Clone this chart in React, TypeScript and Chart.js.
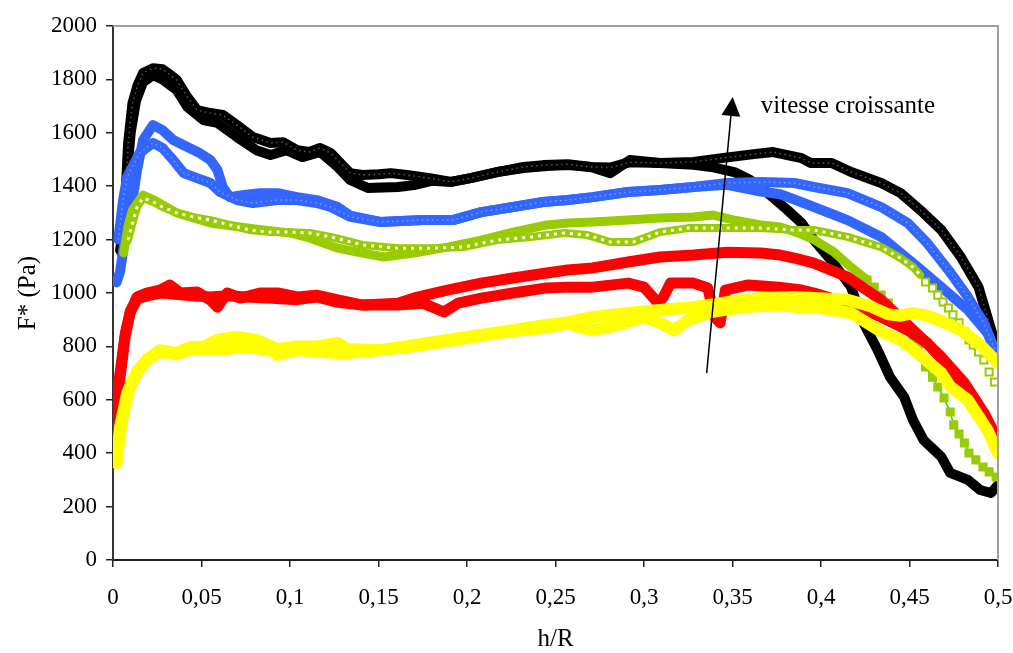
import React, { useEffect, useRef } from "react";
import { Chart, registerables } from "chart.js";
Chart.register(...registerables);

type P = [number, number];

const xTicks = [0, 0.05, 0.1, 0.15, 0.2, 0.25, 0.3, 0.35, 0.4, 0.45, 0.5];
const yTicks = [0, 200, 400, 600, 800, 1000, 1200, 1400, 1600, 1800, 2000];

const xTitle = "h/R";
const yTitle = "F* (Pa)";
const noteText = "vitesse croissante";
const arrowFrom: P = [0.3354, 700];
const arrowTo: P = [0.3501, 1734];
const notePos: P = [0.366, 1674];

const blackOpen: P[] = [
  [0.005, 1150], [0.0057, 1172], [0.007, 1350], [0.0085, 1560], [0.011, 1711], [0.014, 1780],
  [0.017, 1824], [0.0226, 1842], [0.028, 1838], [0.031, 1824], [0.036, 1798], [0.042, 1734],
  [0.0475, 1685], [0.055, 1674], [0.062, 1667], [0.07, 1629], [0.079, 1584], [0.089, 1562],
  [0.096, 1565], [0.104, 1535], [0.111, 1528], [0.117, 1543], [0.123, 1524], [0.128, 1490],
  [0.134, 1449], [0.141, 1442], [0.15, 1445], [0.157, 1449], [0.166, 1442], [0.179, 1430],
  [0.191, 1416], [0.202, 1430], [0.217, 1453], [0.232, 1472], [0.243, 1479], [0.257, 1482],
  [0.27, 1472], [0.281, 1470], [0.292, 1490], [0.309, 1487], [0.328, 1491], [0.345, 1506],
  [0.362, 1520], [0.373, 1528], [0.389, 1505], [0.394, 1487], [0.406, 1487], [0.417, 1453],
  [0.434, 1412], [0.445, 1374], [0.456, 1311], [0.468, 1236], [0.479, 1135], [0.489, 1022],
  [0.494, 910], [0.499, 798], [0.5, 760],
];

const blackFilled: P[] = [
  [0.004, 1160], [0.006, 1250], [0.008, 1450], [0.01, 1600], [0.013, 1720], [0.017, 1790],
  [0.0226, 1816], [0.028, 1800], [0.036, 1760], [0.042, 1697], [0.051, 1648], [0.059, 1637],
  [0.07, 1584], [0.081, 1535], [0.089, 1517], [0.098, 1535], [0.107, 1509], [0.117, 1528],
  [0.127, 1472], [0.134, 1423], [0.144, 1393], [0.161, 1397], [0.17, 1404], [0.18, 1420],
  [0.191, 1416], [0.202, 1430], [0.217, 1453], [0.232, 1468], [0.245, 1476], [0.257, 1479],
  [0.27, 1472], [0.281, 1449], [0.292, 1498], [0.309, 1487], [0.328, 1480], [0.338, 1472],
  [0.351, 1453], [0.36, 1423], [0.37, 1374], [0.381, 1311], [0.389, 1262], [0.396, 1198],
  [0.407, 1112], [0.417, 1022], [0.424, 888], [0.432, 786], [0.439, 685], [0.447, 610],
  [0.452, 524], [0.458, 449], [0.468, 386], [0.473, 326], [0.483, 300], [0.49, 262],
  [0.496, 251], [0.5, 281],
];

const blueFilled: P[] = [
  [0.002, 1040], [0.004, 1080], [0.006, 1170], [0.0096, 1285], [0.0136, 1461], [0.017, 1573],
  [0.0226, 1629], [0.028, 1610], [0.034, 1573], [0.042, 1547], [0.049, 1524], [0.055, 1498],
  [0.059, 1461], [0.062, 1397], [0.066, 1359], [0.074, 1367], [0.083, 1374], [0.093, 1374],
  [0.104, 1359], [0.115, 1348], [0.127, 1322], [0.134, 1290], [0.151, 1266], [0.175, 1273],
  [0.192, 1273], [0.208, 1303], [0.226, 1322], [0.243, 1341], [0.257, 1348], [0.271, 1359],
  [0.291, 1378], [0.309, 1386], [0.328, 1397], [0.347, 1405], [0.366, 1380], [0.377, 1370],
  [0.385, 1350], [0.396, 1322], [0.415, 1273], [0.434, 1210], [0.452, 1112], [0.468, 1022],
  [0.483, 936], [0.494, 850], [0.5, 756],
];

const blueOpen: P[] = [
  [0.003, 1200], [0.0057, 1348], [0.008, 1434], [0.015, 1524], [0.0226, 1562], [0.028, 1543],
  [0.034, 1498], [0.04, 1449], [0.0475, 1430], [0.055, 1412], [0.0605, 1378], [0.07, 1348],
  [0.079, 1337], [0.093, 1348], [0.104, 1348], [0.115, 1337], [0.123, 1322], [0.134, 1285],
  [0.151, 1266], [0.175, 1273], [0.192, 1273], [0.208, 1303], [0.226, 1322], [0.243, 1341],
  [0.257, 1348], [0.271, 1359], [0.291, 1378], [0.309, 1386], [0.328, 1397], [0.347, 1412],
  [0.366, 1416], [0.385, 1412], [0.396, 1397], [0.415, 1374], [0.434, 1322], [0.449, 1262],
  [0.46, 1187], [0.472, 1086], [0.483, 985], [0.492, 888], [0.499, 775],
];

const greenOpen: P[] = [
  [0.0085, 1198], [0.011, 1262], [0.0136, 1322], [0.017, 1356], [0.0226, 1341], [0.028, 1322],
  [0.036, 1300], [0.045, 1285], [0.055, 1273], [0.066, 1255], [0.077, 1236], [0.089, 1228],
  [0.1, 1228], [0.111, 1225], [0.123, 1210], [0.141, 1180], [0.161, 1168], [0.179, 1168],
  [0.198, 1172], [0.217, 1198], [0.236, 1210], [0.255, 1225], [0.268, 1217], [0.281, 1191],
  [0.294, 1191], [0.309, 1228], [0.325, 1243], [0.347, 1243], [0.366, 1243], [0.385, 1236],
  [0.396, 1236], [0.415, 1210], [0.434, 1172], [0.445, 1130], [0.452, 1097], [0.456, 1068],
  [0.459, 1041], [0.463, 1019], [0.466, 992], [0.469, 966], [0.472, 944], [0.4745, 918],
  [0.478, 888], [0.481, 854], [0.4836, 824], [0.486, 805], [0.489, 779], [0.492, 749],
  [0.495, 704], [0.498, 667],
];

const greenFilled: P[] = [
  [0.006, 1150], [0.0085, 1250], [0.011, 1311], [0.017, 1367], [0.0226, 1350], [0.028, 1330],
  [0.036, 1300], [0.055, 1262], [0.08, 1240], [0.1, 1225], [0.111, 1206], [0.127, 1168],
  [0.138, 1153], [0.153, 1135], [0.17, 1150], [0.189, 1172], [0.208, 1198], [0.226, 1228],
  [0.245, 1255], [0.257, 1262], [0.271, 1266], [0.291, 1273], [0.309, 1281], [0.328, 1285],
  [0.339, 1292], [0.351, 1273], [0.366, 1255], [0.377, 1247], [0.389, 1220], [0.396, 1200],
  [0.407, 1155], [0.417, 1097], [0.426, 1049], [0.43, 1022], [0.434, 992], [0.438, 962],
  [0.441, 925], [0.445, 891], [0.448, 861], [0.452, 824], [0.455, 794], [0.457, 760],
  [0.459, 723], [0.463, 685], [0.466, 648], [0.4695, 607], [0.473, 554], [0.475, 506],
  [0.478, 472], [0.481, 438], [0.4836, 401], [0.4875, 375], [0.4915, 348], [0.495, 330],
  [0.499, 311],
];

const redUpper: P[] = [
  [0.0, 475], [0.004, 685], [0.0068, 835], [0.0096, 925], [0.0136, 985], [0.019, 1000],
  [0.0266, 1011], [0.032, 1030], [0.038, 1000], [0.0475, 1004], [0.055, 974], [0.059, 947],
  [0.0645, 1000], [0.072, 981], [0.083, 1000], [0.093, 1000], [0.104, 985], [0.115, 992],
  [0.127, 974], [0.141, 955], [0.161, 962], [0.172, 985], [0.189, 1011], [0.208, 1037],
  [0.226, 1056], [0.245, 1075], [0.257, 1086], [0.271, 1094], [0.291, 1116], [0.309, 1135],
  [0.328, 1142], [0.347, 1153], [0.366, 1150], [0.377, 1142], [0.385, 1131], [0.396, 1112],
  [0.415, 1060], [0.434, 974], [0.452, 861], [0.468, 760], [0.481, 663], [0.492, 551],
  [0.5, 449],
];

const redLower: P[] = [
  [0.0, 520], [0.004, 700], [0.007, 850], [0.01, 935], [0.014, 980], [0.02, 990],
  [0.027, 1000], [0.035, 995], [0.045, 990], [0.055, 985], [0.065, 990], [0.075, 985],
  [0.09, 980], [0.104, 975], [0.115, 985], [0.127, 965], [0.141, 955], [0.161, 955],
  [0.175, 962], [0.187, 929], [0.195, 962], [0.208, 981], [0.226, 1000], [0.245, 1019],
  [0.257, 1022], [0.271, 1022], [0.291, 1037], [0.3, 1022], [0.308, 962], [0.311, 985],
  [0.315, 1037], [0.328, 1037], [0.336, 1019], [0.34, 910], [0.343, 888], [0.346, 1011],
  [0.359, 1030], [0.376, 1022], [0.389, 1011], [0.396, 1000], [0.415, 962], [0.434, 910],
  [0.449, 861], [0.46, 813], [0.472, 723], [0.483, 625], [0.492, 530], [0.5, 420],
];

const yellowUpper: P[] = [
  [0.002, 363], [0.004, 498], [0.008, 625], [0.0136, 700], [0.019, 749], [0.0266, 786],
  [0.036, 775], [0.0436, 798], [0.051, 798], [0.059, 824], [0.07, 835], [0.081, 824],
  [0.093, 790], [0.104, 800], [0.115, 800], [0.127, 813], [0.132, 790], [0.151, 786],
  [0.17, 805], [0.189, 824], [0.208, 843], [0.226, 861], [0.245, 880], [0.257, 891],
  [0.271, 910], [0.291, 925], [0.309, 936], [0.328, 947], [0.347, 966], [0.366, 981],
  [0.385, 985], [0.396, 981], [0.415, 975], [0.428, 950], [0.438, 920], [0.445, 915],
  [0.452, 925], [0.46, 915], [0.468, 895], [0.479, 861], [0.49, 805], [0.5, 738],
];

const yellowLower: P[] = [
  [0.002, 380], [0.005, 520], [0.009, 640], [0.014, 710], [0.02, 755], [0.0266, 780],
  [0.036, 770], [0.0436, 790], [0.051, 790], [0.059, 786], [0.074, 798], [0.089, 786],
  [0.093, 768], [0.104, 786], [0.127, 775], [0.132, 775], [0.151, 786], [0.17, 800],
  [0.189, 820], [0.208, 840], [0.226, 858], [0.245, 870], [0.257, 885], [0.27, 861],
  [0.281, 873], [0.3, 910], [0.309, 888], [0.317, 861], [0.325, 899], [0.338, 929],
  [0.356, 947], [0.376, 955], [0.389, 947], [0.396, 947], [0.417, 925], [0.434, 855],
  [0.445, 824], [0.452, 790], [0.468, 700], [0.473, 650], [0.483, 599], [0.494, 487],
  [0.5, 400],
];

const BLACK = "#000000";
const BLUE = "#3366ff";
const GREEN = "#99cc00";
const LIME = "#00ee00";
const RED = "#ff0000";
const YELLOW = "#ffff00";
const FONT = "'Liberation Serif', 'Times New Roman', serif";

const toXY = (a: P[]) => a.map(([x, y]) => ({ x, y }));

const band = (data: P[], color: string, width: number, order: number) => ({
  data: toXY(data),
  borderColor: color,
  backgroundColor: color,
  borderWidth: width,
  pointRadius: 0,
  tension: 0,
  fill: false,
  borderJoinStyle: "round" as const,
  borderCapStyle: "round" as const,
  order,
});

const holes = (data: P[], width: number, dash: number[], color: string, order: number) => ({
  data: toXY(data),
  borderColor: color,
  borderWidth: width,
  borderDash: dash,
  pointRadius: 0,
  tension: 0,
  fill: false,
  order,
});

const markers = (data: P[], fillColor: string, edge: string, line: string, order: number) => ({
  data: toXY(data),
  showLine: line !== "",
  borderColor: line || edge,
  borderWidth: 1.5,
  pointStyle: "rect" as const,
  pointRadius: 5,
  pointBackgroundColor: fillColor,
  pointBorderColor: edge,
  pointBorderWidth: 2,
  tension: 0,
  fill: false,
  order,
});

const framePlugin = {
  id: "frameAndNote",
  afterDatasetsDraw(chart: any) {
    const { ctx, chartArea, scales } = chart;
    const xs = scales.x;
    const ys = scales.y;
    ctx.save();
    ctx.strokeStyle = "#a0a0a0";
    ctx.lineWidth = 2;
    ctx.beginPath();
    ctx.moveTo(chartArea.left, chartArea.top);
    ctx.lineTo(chartArea.right, chartArea.top);
    ctx.lineTo(chartArea.right, chartArea.bottom);
    ctx.stroke();

    const x0 = xs.getPixelForValue(arrowFrom[0]);
    const y0 = ys.getPixelForValue(arrowFrom[1]);
    const x1 = xs.getPixelForValue(arrowTo[0]);
    const y1 = ys.getPixelForValue(arrowTo[1]);
    const ang = Math.atan2(y1 - y0, x1 - x0);
    const headLen = 19;
    const headHalf = 9.5;
    const bx = x1 - headLen * Math.cos(ang);
    const by = y1 - headLen * Math.sin(ang);
    ctx.strokeStyle = "#000";
    ctx.fillStyle = "#000";
    ctx.lineWidth = 1.5;
    ctx.beginPath();
    ctx.moveTo(x0, y0);
    ctx.lineTo(bx, by);
    ctx.stroke();
    ctx.beginPath();
    ctx.moveTo(x1, y1);
    ctx.lineTo(bx + headHalf * Math.sin(ang), by - headHalf * Math.cos(ang));
    ctx.lineTo(bx - headHalf * Math.sin(ang), by + headHalf * Math.cos(ang));
    ctx.closePath();
    ctx.fill();

    ctx.font = `25px ${FONT}`;
    ctx.textAlign = "left";
    ctx.textBaseline = "alphabetic";
    ctx.fillStyle = "#000";
    ctx.fillText(noteText, xs.getPixelForValue(notePos[0]), ys.getPixelForValue(notePos[1]));
    ctx.restore();
  },
};

const fmtX = (v: number) => String(+v.toFixed(2)).replace(".", ",");

export default function App() {
  const ref = useRef<HTMLCanvasElement | null>(null);
  useEffect(() => {
    if (!ref.current) return;
    const greenOpenBand = greenOpen.filter((p) => p[0] <= 0.456);
    const greenOpenTail = greenOpen.filter((p) => p[0] > 0.456);
    const greenFilledBand = greenFilled.filter((p) => p[0] <= 0.426);
    const greenFilledTail = greenFilled.filter((p) => p[0] >= 0.426);

    const chart = new Chart(ref.current, {
      type: "line",
      data: {
        datasets: [
          band(blackFilled, BLACK, 10, 20),
          band(blackOpen, BLACK, 10, 19),
          holes(blackOpen, 1.5, [1.5, 3.5], "rgba(255,255,255,0.35)", 18.5),
          band(blueFilled, BLUE, 10, 17),
          band(blueOpen, BLUE, 10, 16),
          holes(blueOpen, 1.5, [1.5, 3.5], "rgba(255,255,255,0.35)", 15.5),
          band(greenFilledBand, GREEN, 9, 14),
          markers(greenFilledTail, GREEN, GREEN, LIME, 13.5),
          band(greenOpenBand, GREEN, 8, 13),
          holes(greenOpenBand, 3, [3, 5], "#ffffff", 12.5),
          markers(greenOpenTail, "#ffffff", GREEN, "", 12.4),
          band(redLower, RED, 11, 11),
          band(redUpper, RED, 11, 10),
          band(yellowLower, YELLOW, 12, 9),
          band(yellowUpper, YELLOW, 12, 8),
        ] as any,
      },
      options: {
        animation: false,
        responsive: false,
        maintainAspectRatio: false,
        devicePixelRatio: 1,
        layout: { padding: { top: 26, right: 1, left: 0, bottom: 0 } },
        plugins: { legend: { display: false }, tooltip: { enabled: false } },
        scales: {
          x: {
            type: "linear",
            min: 0,
            max: 0.5,
            afterBuildTicks: (axis: any) => {
              axis.ticks = xTicks.map((value) => ({ value }));
            },
            afterFit: (s: any) => {
              s.height = 93;
              s.paddingRight = 15;
            },
            ticks: {
              callback: (v: any) => fmtX(Number(v)),
              font: { family: FONT, size: 23 },
              color: "#000",
              padding: 17,
              maxRotation: 0,
              autoSkip: false,
            },
            grid: { drawOnChartArea: false, drawTicks: true, tickLength: 7, color: "#222", lineWidth: 1.5 },
            border: { display: true, color: "#222", width: 2 },
            title: {
              display: true,
              text: xTitle,
              color: "#000",
              font: { family: FONT, size: 25, lineHeight: 1 },
              padding: { top: 0, bottom: 1 },
            },
          },
          y: {
            type: "linear",
            min: 0,
            max: 2000,
            afterBuildTicks: (axis: any) => {
              axis.ticks = yTicks.map((value) => ({ value }));
            },
            afterFit: (s: any) => {
              s.width = 113;
            },
            ticks: {
              callback: (v: any) => String(v),
              font: { family: FONT, size: 23 },
              color: "#000",
              padding: 9,
              autoSkip: false,
            },
            grid: { drawOnChartArea: false, drawTicks: true, tickLength: 7, color: "#222", lineWidth: 1.5 },
            border: { display: true, color: "#333", width: 2 },
            title: {
              display: true,
              text: yTitle,
              color: "#000",
              font: { family: FONT, size: 25, lineHeight: 1 },
              padding: { top: 16, bottom: 0 },
            },
          },
        },
      },
      plugins: [framePlugin],
    });
    return () => chart.destroy();
  }, []);

  return (
    <div style={{ position: "fixed", left: 0, top: 0, width: 1013, height: 653, background: "#fff" }}>
      <canvas ref={ref} width={1013} height={653} style={{ width: 1013, height: 653 }} />
    </div>
  );
}
